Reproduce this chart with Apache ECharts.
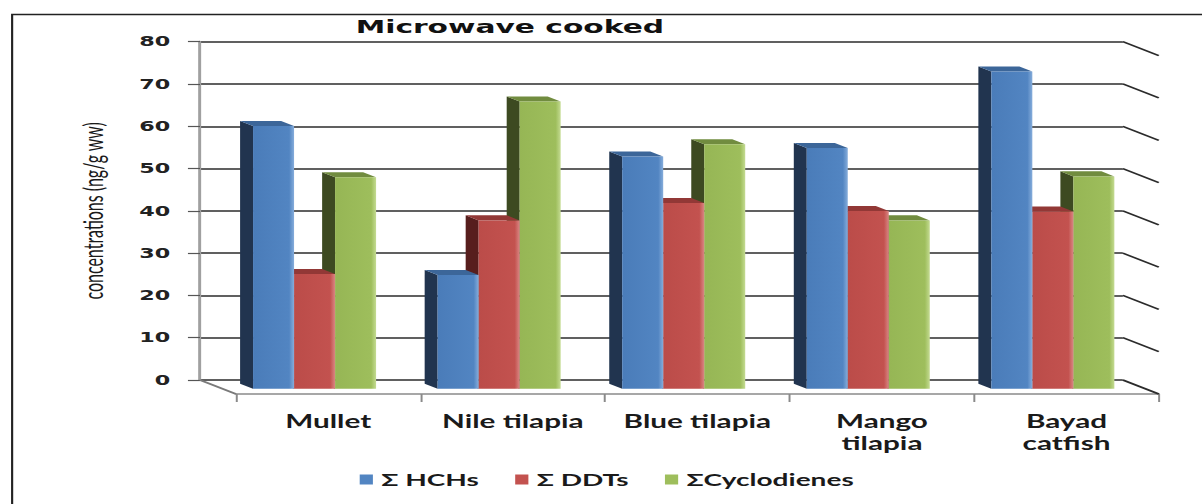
<!DOCTYPE html>
<html>
<head>
<meta charset="utf-8">
<script src="https://cdn.jsdelivr.net/npm/echarts@6/dist/echarts.min.js"></script>
<style>
  html, body { margin: 0; padding: 0; background: #fff; overflow: hidden; }
  #wrap { width: 1202px; height: 504px; overflow: hidden; }
  /* the chart is laid out narrow and widened horizontally */
  #chart { width: 728.5px; height: 504px; transform: scaleX(1.65); transform-origin: 0 0; }
</style>
</head>
<body>
<div id="wrap"><div id="chart"></div></div>
<script>
// ---- data ----
const categories = ['Mullet', 'Nile tilapia', 'Blue tilapia', 'Mango tilapia', 'Bayad catfish'];
const categoryLabels = ['Mullet', 'Nile tilapia', 'Blue tilapia', 'Mango\ntilapia', 'Bayad\ncatfish'];
const seriesNames = ['Σ HCHs', 'Σ DDTs', 'ΣCyclodienes'];
const hchs = [62.1, 26.9, 54.9, 56.9, 75.0];
const ddts = [27.1, 39.8, 43.9, 42.0, 41.9];
const cyclodienes = [50.0, 67.9, 57.8, 39.8, 50.2];
const yTicks = [0, 10, 20, 30, 40, 50, 60, 70, 80];

// ---- pseudo-3D geometry (oblique depth vector, back wall -> front edge) ----
const DEPTH = [21.8, 14];
const FRONT_T = 0.62;   // depth of the bar front faces
const BACK_T = 0.26;    // depth of the bar back faces
const GRID = { left: 121.2, right: 48.5, top: 41.7, bottom: 124 };

const palette = [
  { front: ['#4a7cb9', '#5285c2', '#86addb'], side: '#21344f', top: '#3c6699' },
  { front: ['#bb4c49', '#c3524f', '#d98683'], side: '#571e1d', top: '#923836' },
  { front: ['#96b655', '#9ebe5c', '#c4db92'], side: '#3d4a21', top: '#718c3f' }
];

function barRenderer(k) {
  return function (params, api) {
    const cat = api.value(0);
    const val = api.value(1);
    const top = api.coord([cat, val]);
    const base = api.coord([cat, 0]);
    const band = api.size([1, 0])[0];
    const w = band / 4.5;
    const fx = DEPTH[0] * FRONT_T, fy = DEPTH[1] * FRONT_T;
    const bx = DEPTH[0] * (BACK_T - FRONT_T), by = DEPTH[1] * (BACK_T - FRONT_T);
    const x0 = top[0] - 1.5 * w + k * w + fx;
    const x1 = x0 + w;
    const yt = top[1] + fy;
    const yb = base[1] + fy;
    const c = palette[k];
    return {
      type: 'group',
      children: [
        { type: 'polygon', shape: { points: [[x0, yt], [x0 + bx, yt + by], [x0 + bx, yb + by], [x0, yb]] },
          style: { fill: c.side } },
        { type: 'polygon', shape: { points: [[x0, yt], [x1, yt], [x1 + bx, yt + by], [x0 + bx, yt + by]] },
          style: { fill: c.top } },
        { type: 'rect', shape: { x: x0, y: yt, width: w, height: yb - yt },
          style: { fill: { type: 'linear', x: 0, y: 0, x2: 1, y2: 0,
            colorStops: [{ offset: 0, color: c.front[0] }, { offset: 0.88, color: c.front[1] }, { offset: 1, color: c.front[2] }] } } }
      ]
    };
  };
}

// slanted continuation of each gridline along the right wall, plus the floor's left edge
function wallRenderer(params, api) {
  const v = api.value(1);
  const y = api.coord([0, v])[1];
  const cs = params.coordSys;
  const xr = cs.x + cs.width;
  const lineStyle = { stroke: '#2b2b2b', lineWidth: 1.5 };
  const children = [
    { type: 'line', shape: { x1: xr, y1: y, x2: xr + DEPTH[0], y2: y + DEPTH[1] }, style: lineStyle }
  ];
  if (v === 0) {
    children.push({ type: 'line', shape: { x1: cs.x, y1: y, x2: cs.x + DEPTH[0], y2: y + DEPTH[1] },
      style: { stroke: '#7a7a7a', lineWidth: 1.5 } });
  }
  return { type: 'group', children: children };
}

const valueSets = [hchs, ddts, cyclodienes];

const chart = echarts.init(document.getElementById('chart'), null, { renderer: 'svg' });
chart.setOption({
  backgroundColor: '#fff',
  animation: false,
  title: {
    text: 'Microwave cooked',
    left: 309, top: 18, padding: 0, textAlign: 'center',
    textStyle: { fontFamily: 'DejaVu Sans', fontWeight: 'bold', fontSize: 18, color: '#111' }
  },
  legend: {
    data: seriesNames,
    left: 218, top: 471, padding: 0,
    icon: 'rect', itemWidth: 8, itemHeight: 10, itemGap: 22,
    textStyle: { fontFamily: 'Lato, "Noto Sans"', fontWeight: 'bold', fontSize: 17, color: '#1a1a1a' }
  },
  graphic: [
    { type: 'rect', left: 4.85, top: 12, shape: { width: 900, height: 700 },
      style: { fill: 'none', stroke: '#222', lineWidth: 1.3 }, silent: true, z: -1 }
  ],
  grid: [
    { left: GRID.left, right: GRID.right, top: GRID.top, bottom: GRID.bottom },
    { left: GRID.left + DEPTH[0], right: GRID.right - DEPTH[0], top: GRID.top + DEPTH[1], bottom: GRID.bottom - DEPTH[1] }
  ],
  xAxis: [
    { type: 'category', gridIndex: 0, data: categories, boundaryGap: true,
      axisLine: { show: false }, axisTick: { show: false }, axisLabel: { show: false } },
    { type: 'category', gridIndex: 1, data: categories, boundaryGap: true,
      axisLine: { show: true, lineStyle: { color: '#8a8a8a', width: 1.5 } },
      axisTick: { show: true, interval: 0, length: 8, lineStyle: { color: '#8a8a8a', width: 1.2 } },
      axisLabel: { interval: 0, margin: 16, lineHeight: 22, fontFamily: 'Lato, "Noto Sans"', fontWeight: 'bold', fontSize: 18, color: '#1a1a1a',
        formatter: function (v, i) { return categoryLabels[i]; } } }
  ],
  yAxis: [
    { type: 'value', gridIndex: 0, min: 0, max: 80, interval: 10,
      name: 'concentrations (ng/g ww)', nameLocation: 'middle', nameRotate: 90, nameGap: 57,
      nameTextStyle: { fontFamily: 'Lato, "Noto Sans"', fontSize: 16, color: '#1a1a1a' },
      axisLine: { show: true, lineStyle: { color: '#a0a0a0', width: 1.8 } },
      axisTick: { show: true, length: 7.3, lineStyle: { color: '#555', width: 1.2 } },
      axisLabel: { margin: 18, fontFamily: 'DejaVu Sans', fontWeight: 'bold', fontSize: 13.5, color: '#222' },
      splitLine: { show: true, lineStyle: { color: '#2b2b2b', width: 1.5 } } },
    { type: 'value', gridIndex: 1, min: 0, max: 80, interval: 10, show: false, splitLine: { show: false } }
  ],
  series: [
    { type: 'custom', name: 'wall', xAxisIndex: 0, yAxisIndex: 0, z: 1, silent: true,
      renderItem: wallRenderer, data: yTicks.map(function (v) { return [0, v]; }) }
  ].concat(valueSets.map(function (vals, k) {
    return {
      type: 'custom', name: seriesNames[k], xAxisIndex: 0, yAxisIndex: 0, z: 5 - k,
      itemStyle: { color: palette[k].front[1] },
      renderItem: barRenderer(k),
      data: vals.map(function (v, i) { return [i, v]; })
    };
  }))
});
</script>
</body>
</html>
